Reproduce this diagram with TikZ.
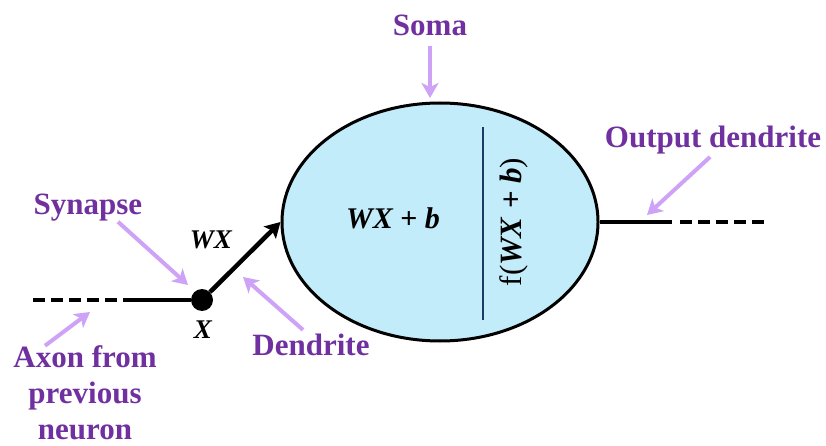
\documentclass[tikz,border=0pt]{standalone}
\usepackage{fontspec}
\setmainfont{Liberation Serif}
\usepackage{xcolor}
\definecolor{NeuroPurple}{HTML}{7030A0}
\definecolor{PointLilac} {HTML}{CDA2F7}
\definecolor{SomaBlue}   {HTML}{C3ECFA}
\definecolor{SplitNavy}  {HTML}{1F3864}
\usetikzlibrary{arrows.meta,positioning,shapes.geometric}

\begin{document}
\begin{tikzpicture}[x=1pt,y=-1pt,
  soma/.style={ellipse,draw=black,fill=SomaBlue,line width=3pt,
    minimum width=316pt,minimum height=238pt,inner sep=0pt},
  lbl/.style={font=\fontsize{31}{36}\selectfont\bfseries,
    text=NeuroPurple,align=center,inner sep=0pt},
  term/.style={font=\fontsize{30}{34}\selectfont\bfseries\itshape,inner sep=0pt},
  wire/.style={line width=4pt,black},
  tail/.style={wire,dash pattern=on 12pt off 6pt},
  arr/.style={-{Stealth[length=15pt,width=17pt,inset=3pt]},line width=4.5pt,black},
  pointer/.style={-{Stealth[length=15pt,width=17pt,inset=4pt]},
    PointLilac,line width=4pt}]
  \useasboundingbox (0,0) rectangle (826,446);
  \node[soma](SO) at (440,222) {};
  \draw[SplitNavy,line width=2.5pt] (483,127) -- (483,320);
  \node[term](SUM) at (393,218) {WX {\upshape +} b};
  \node[rotate=90,font=\fontsize{31}{37}\selectfont](ACT) at (514,222)
    {f(\textbf{\textit{WX}} \textbf{+} \textbf{\textit{b}})};
  % input side
  \node[circle,fill=black,minimum size=22pt,inner sep=0pt](DT) at (202,300) {};
  \coordinate(AxS) at (33,300);
  \coordinate(AxM) at (123,300);
  \draw[tail](AxS)--(AxM);
  \draw[wire](AxM)--(DT);
  \draw[arr](DT)--(SO.west);
  \node[term,font=\fontsize{27}{30}\selectfont\bfseries\itshape](WX) at (211,240) {WX};
  \node[term,font=\fontsize{27}{30}\selectfont\bfseries\itshape](XX) at (203,330) {X};
  % output side
  \coordinate(OM) at (672,222);
  \coordinate(OS) at (680,222);
  \coordinate(OE) at (768,222);
  \draw[wire](SO.east)--(OM);
  \draw[tail](OS)--(OE);
  % Annotation
  \node[lbl](SL) at (430,25) {Soma};
  \node[lbl](SY) at (88,208) {Synapse};
  \node[lbl](AX) at (85,393) {Axon from\\previous\\neuron};
  \node[lbl](DN) at (311,345) {Dendrite};
  \node[lbl](OD) at (713,140) {Output dendrite};
  \coordinate(SomaTip) at (430,98);
  \coordinate(SynTip) at (188,285);
  \coordinate(AxTip) at (90,312);
  \coordinate(DenTip) at (243,277);
  \coordinate(OutTip) at (647,215);
  \draw[pointer,shorten <=10pt](SL.south)--(SomaTip);
  \draw[pointer]([xshift=30pt]SY.south)--(SynTip);
  \draw[pointer]([xshift=-40pt]AX.north)--(AxTip);
  \draw[pointer]([xshift=-8pt,yshift=4pt]DN.north)--(DenTip);
  \draw[pointer,shorten <=4pt](OD.south)--(OutTip);
\end{tikzpicture}
\end{document}
